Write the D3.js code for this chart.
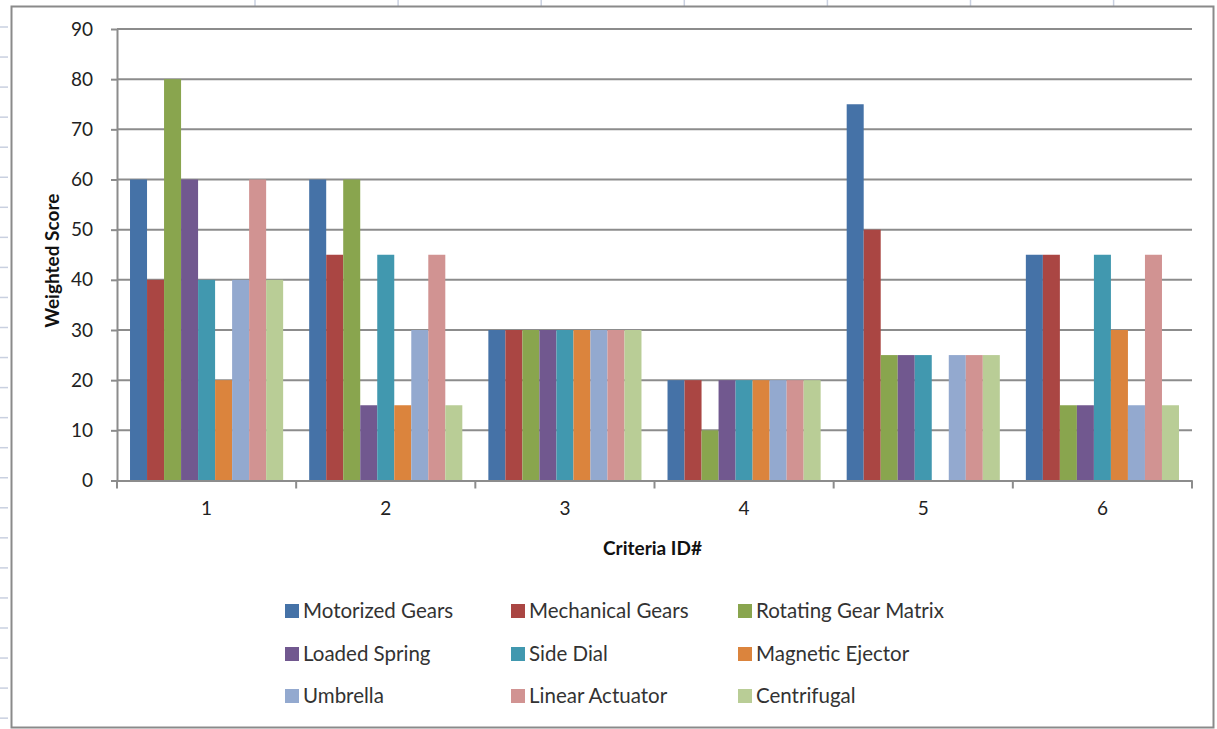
<!DOCTYPE html>
<html>
<head>
<meta charset="utf-8">
<script src="https://cdn.jsdelivr.net/npm/d3@7"></script>
<style>
  html, body { margin: 0; padding: 0; background: #fff; }
  svg { display: block; }
  text { font-family: Lato, "Open Sans", sans-serif; }
</style>
</head>
<body>
<svg id="chart" width="1217" height="729"></svg>
<script>
// Criteria IDs along the x axis
const categories = ["1", "2", "3", "4", "5", "6"];

// Design concepts compared in the decision matrix
const seriesNames = [
  "Motorized Gears", "Mechanical Gears", "Rotating Gear Matrix",
  "Loaded Spring", "Side Dial", "Magnetic Ejector",
  "Umbrella", "Linear Actuator", "Centrifugal"
];

// Weighted score per criterion, one array per concept
const motorizedGears   = [60, 60, 30, 20, 75, 45];
const mechanicalGears  = [40, 45, 30, 20, 50, 45];
const rotatingGear     = [80, 60, 30, 10, 25, 15];
const loadedSpring     = [60, 15, 30, 20, 25, 15];
const sideDial         = [40, 45, 30, 20, 25, 45];
const magneticEjector  = [20, 15, 30, 20, 0, 30];
const umbrella         = [40, 30, 30, 20, 25, 15];
const linearActuator   = [60, 45, 30, 20, 25, 45];
const centrifugal      = [40, 15, 30, 20, 25, 15];

const seriesValues = [
  motorizedGears, mechanicalGears, rotatingGear,
  loadedSpring, sideDial, magneticEjector,
  umbrella, linearActuator, centrifugal
];

const seriesColors = [
  "#4572A7", "#AA4643", "#89A54E",
  "#71588F", "#4198AF", "#DB843D",
  "#93A9CF", "#D19392", "#B9CD96"
];

const yTicks = [0, 10, 20, 30, 40, 50, 60, 70, 80, 90];

const svg = d3.select("#chart");

// Faint worksheet grid peeking around the chart frame
const sheet = svg.append("g").attr("stroke", "#c9d0e0").attr("stroke-width", 1.5);
d3.range(255, 1217, 143.1).forEach(x => {
  sheet.append("line").attr("x1", x).attr("x2", x).attr("y1", 0).attr("y2", 7);
});
d3.range(27, 729, 30.05).forEach(y => {
  sheet.append("line").attr("x1", 0).attr("x2", 8).attr("y1", y).attr("y2", y);
});

// Chart frame
svg.append("rect")
  .attr("x", 11.5).attr("y", 6.5)
  .attr("width", 1202).attr("height", 721)
  .attr("fill", "#fff")
  .attr("stroke", "#8a8a8a").attr("stroke-width", 2);

const plot = { left: 117, right: 1192, top: 29, bottom: 480.5 };

const x0 = d3.scaleBand()
  .domain(categories)
  .range([plot.left, plot.right])
  .padding(0);

const x1 = d3.scaleBand()
  .domain(d3.range(seriesNames.length))
  .range([0, x0.bandwidth()])
  .paddingInner(0)
  .paddingOuter(0.765);

const y = d3.scaleLinear()
  .domain([0, 90])
  .range([plot.bottom, plot.top]);

// Horizontal gridlines
svg.append("g")
  .selectAll("line")
  .data(yTicks.filter(d => d > 0))
  .join("line")
  .attr("x1", plot.left).attr("x2", plot.right)
  .attr("y1", d => y(d)).attr("y2", d => y(d))
  .attr("stroke", "#8c8c8c").attr("stroke-width", 2);

// Bars
const groups = svg.append("g")
  .selectAll("g")
  .data(categories)
  .join("g")
  .attr("transform", d => `translate(${x0(d)},0)`);

groups.selectAll("rect")
  .data((c, ci) => seriesValues.map((vals, si) => ({ si, v: vals[ci] })))
  .join("rect")
  .attr("x", d => x1(d.si))
  .attr("width", x1.bandwidth())
  .attr("y", d => y(d.v))
  .attr("height", d => y(0) - y(d.v))
  .attr("fill", d => seriesColors[d.si]);

// Y axis
const yAxis = svg.append("g")
  .attr("transform", `translate(${plot.left},0)`)
  .call(d3.axisLeft(y).tickValues(yTicks).tickSize(6).tickPadding(18).tickSizeOuter(0));
yAxis.select(".domain").attr("stroke", "#8c8c8c").attr("stroke-width", 2);
yAxis.selectAll(".tick line").attr("stroke", "#8c8c8c").attr("stroke-width", 2);
yAxis.selectAll(".tick text")
  .attr("font-family", "Lato, sans-serif")
  .attr("font-size", 19).attr("fill", "#222");

// X axis with ticks on category boundaries
const xAxis = svg.append("g")
  .attr("transform", `translate(0,${plot.bottom})`)
  .call(d3.axisBottom(x0).tickSize(0).tickPadding(21));
xAxis.select(".domain").attr("stroke", "#8c8c8c").attr("stroke-width", 2);
xAxis.selectAll(".tick text")
  .attr("font-family", "Lato, sans-serif")
  .attr("font-size", 19).attr("fill", "#222");
xAxis.selectAll(".boundary")
  .data(d3.range(categories.length + 1))
  .join("line")
  .attr("class", "boundary")
  .attr("x1", i => plot.left + i * x0.step())
  .attr("x2", i => plot.left + i * x0.step())
  .attr("y1", 0).attr("y2", 8)
  .attr("stroke", "#8c8c8c").attr("stroke-width", 2);

// Axis titles
svg.append("text")
  .attr("transform", `translate(59,${(plot.top + plot.bottom) / 2 + 6}) rotate(-90)`)
  .attr("text-anchor", "middle")
  .attr("font-size", 19).attr("font-weight", "bold").attr("fill", "#111")
  .text("Weighted Score");

svg.append("text")
  .attr("x", (plot.left + plot.right) / 2 - 2)
  .attr("y", 555)
  .attr("text-anchor", "middle")
  .attr("font-size", 19).attr("font-weight", "bold").attr("fill", "#111")
  .text("Criteria ID#");

// Legend: three columns, three rows
const legendX = [285, 511, 738];
const legendY = [611, 654, 696];
const legend = svg.append("g")
  .selectAll("g")
  .data(seriesNames)
  .join("g")
  .attr("transform", (d, i) => `translate(${legendX[i % 3]},${legendY[Math.floor(i / 3)]})`);

legend.append("rect")
  .attr("x", 0).attr("y", -7)
  .attr("width", 14).attr("height", 14)
  .attr("fill", (d, i) => seriesColors[i]);

legend.append("text")
  .attr("x", 18).attr("y", 0)
  .attr("dy", "0.35em")
  .attr("font-size", 20.5).attr("fill", "#333")
  .text(d => d);
</script>
</body>
</html>
